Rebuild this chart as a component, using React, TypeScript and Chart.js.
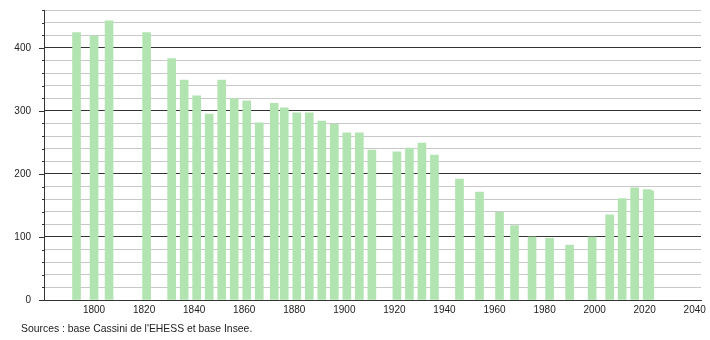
import React, { useEffect, useRef } from "react";
import { Chart, registerables } from "chart.js";

Chart.register(...registerables);

const years = [1793, 1800, 1806, 1821, 1831, 1836, 1841, 1846, 1851, 1856, 1861, 1866, 1872, 1876, 1881, 1886, 1891, 1896, 1901, 1906, 1911, 1921, 1926, 1931, 1936, 1946, 1954, 1962, 1968, 1975, 1982, 1990, 1999, 2006, 2011, 2016, 2021, 2022];
const population = [424, 419, 443, 424, 383, 349, 324, 295, 349, 319, 316, 281, 312, 305, 297, 297, 284, 279, 265, 265, 238, 235, 241, 249, 230, 192, 171, 139, 118, 100, 98, 87, 100, 135, 161, 178, 175, 173];
const yMajorStep = 100;
const yMinorStep = 20;
const yMax = 460;
const xMin = 1780;
const xMax = 2042.5;
const xStep = 20;
const sourceText = "Sources : base Cassini de l'EHESS et base Insee.";

const FONT = "'Liberation Sans', Arial, sans-serif";

const extrasPlugin = {
  id: "extras",
  afterDraw(chart: any) {
    const ctx = chart.ctx;
    const ys = chart.scales.y;
    const left = chart.chartArea.left;
    ctx.save();
    ctx.strokeStyle = "#333";
    ctx.lineWidth = 1;
    ys.ticks.forEach((t: any) => {
      const py = Math.round(ys.getPixelForValue(t.value)) + 0.5;
      const len = t.value % yMajorStep === 0 ? 5 : 2;
      ctx.beginPath();
      ctx.moveTo(left - len, py);
      ctx.lineTo(left + 0.5, py);
      ctx.stroke();
    });
    ctx.fillStyle = "#222";
    ctx.font = "10.4px " + FONT;
    ctx.textBaseline = "middle";
    ctx.textAlign = "left";
    ctx.fillText(sourceText, 21, 329);
    ctx.restore();
  },
};

export default function App() {
  const ref = useRef<HTMLCanvasElement | null>(null);
  useEffect(() => {
    if (!ref.current) return;
    const chart = new Chart(ref.current, {
      type: "bar",
      data: {
        datasets: [
          {
            data: years.map((y, i) => ({ x: y, y: population[i] })),
            backgroundColor: "#b2e4b2",
            borderWidth: 0,
            barThickness: 8,
          },
        ],
      },
      options: {
        animation: false,
        responsive: false,
        devicePixelRatio: 1,
        layout: { padding: { left: 0, right: 9, top: 10, bottom: 0 } },
        plugins: { legend: { display: false }, tooltip: { enabled: false } },
        scales: {
          x: {
            type: "linear",
            min: xMin,
            max: xMax,
            offset: false,
            grid: { display: false },
            border: { display: true, color: "#333", width: 1 },
            ticks: {
              stepSize: xStep,
              includeBounds: false,
              maxRotation: 0,
              autoSkip: false,
              padding: -4,
              color: "#222",
              font: { size: 10, family: FONT },
              callback: (v: any) => (v === xMin ? "" : String(v)),
            },
            afterFit: (s: any) => {
              s.height = 40;
              s.paddingLeft = 0;
              s.paddingRight = 0;
            },
          },
          y: {
            min: 0,
            max: yMax,
            grid: {
              drawTicks: false,
              color: (c: any) => (c.tick && c.tick.value % yMajorStep === 0 ? "#333" : "#c8c8c8"),
              lineWidth: 1,
            },
            border: { display: true, color: "#333", width: 1 },
            ticks: {
              stepSize: yMinorStep,
              autoSkip: false,
              padding: 13,
              color: "#222",
              font: { size: 10, family: FONT },
              callback: (v: any) => (v % yMajorStep === 0 ? String(v) : ""),
            },
            afterFit: (s: any) => {
              s.width = 44;
              s.paddingTop = 0;
              s.paddingBottom = 0;
            },
          },
        },
      },
      plugins: [extrasPlugin],
    });
    return () => chart.destroy();
  }, []);
  return (
    <div style={{ position: "absolute", left: 0, top: 0, width: 710, height: 340 }}>
      <canvas ref={ref} width={710} height={340} />
    </div>
  );
}
